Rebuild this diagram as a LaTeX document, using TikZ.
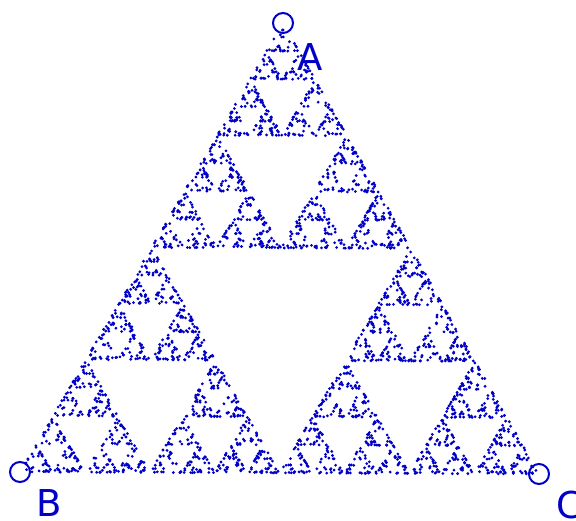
\documentclass[tikz,border=0pt]{standalone}
\usepackage{fontspec}
\setmainfont{DejaVu Sans}
\definecolor{sierp}{RGB}{0,0,200}
\tikzset{
  vertexring/.style={circle, draw=sierp, line width=2pt, minimum size=20pt, inner sep=0pt},
  vlabel/.style={text=sierp, font=\fontsize{37}{40}\selectfont, inner sep=0pt},
  dotc/.style={fill=sierp}
}
\def\px{283}\def\py{23}
\newcommand\chaosstep{%
  \pgfmathrandominteger{\rr}{1}{3}%
  \ifcase\rr\relax\or\def\vx{283}\def\vy{23}\or\def\vx{20}\def\vy{472}\or\def\vx{539}\def\vy{474}\fi
  \pgfmathsetmacro\nx{(\px+\vx)/2}%
  \pgfmathsetmacro\ny{(\py+\vy)/2}%
  \global\let\px\nx \global\let\py\ny}
\begin{document}
\begin{tikzpicture}[x=1pt,y=-1pt]
\useasboundingbox (0,0) rectangle (576,520);
\pgfmathsetseed{7}
\foreach \i in {1,...,3100}{\chaosstep\ifnum\i>10 \fill[dotc] (\px,\py) circle (1.55);\fi}
\node[vertexring] (A) at (283,23) {};
\node[vertexring] (B) at (20,472) {};
\node[vertexring] (C) at (539,474) {};
\node[vlabel] (la) at (310,57) {A};
\node[vlabel] (lb) at (49,503) {B};
\node[vlabel, anchor=west] (lc) at (556,505) {C};
\end{tikzpicture}
\end{document}
